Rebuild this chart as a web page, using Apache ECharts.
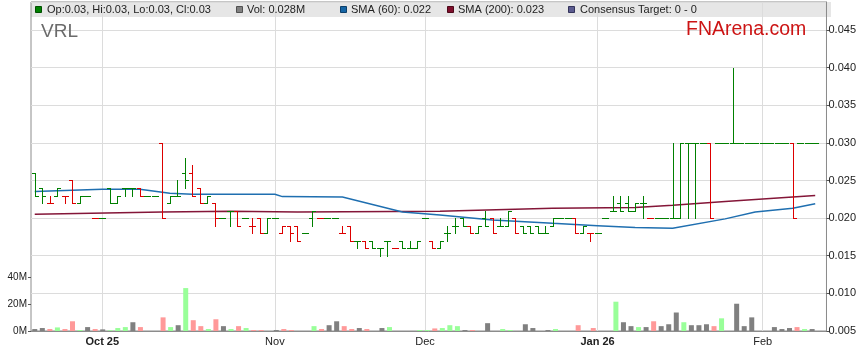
<!DOCTYPE html>
<html>
<head>
<meta charset="utf-8">
<script src="https://cdn.jsdelivr.net/npm/echarts@6/dist/echarts.min.js"></script>
<style>html,body{margin:0;padding:0;background:#fff}#c{width:859px;height:363px}</style>
</head>
<body>
<div id="c"></div>
<script>
// ---- categories: trading weekdays ----
const dates = [
 '2025-09-18','2025-09-19','2025-09-22','2025-09-23','2025-09-24','2025-09-25','2025-09-26','2025-09-29','2025-09-30',
 '2025-10-01','2025-10-02','2025-10-03','2025-10-06','2025-10-07','2025-10-08','2025-10-09','2025-10-10','2025-10-13','2025-10-14','2025-10-15','2025-10-16','2025-10-17','2025-10-20','2025-10-21','2025-10-22','2025-10-23','2025-10-24','2025-10-27','2025-10-28','2025-10-29','2025-10-30','2025-10-31',
 '2025-11-03','2025-11-04','2025-11-05','2025-11-06','2025-11-07','2025-11-10','2025-11-11','2025-11-12','2025-11-13','2025-11-14','2025-11-17','2025-11-18','2025-11-19','2025-11-20','2025-11-21','2025-11-24','2025-11-25','2025-11-26','2025-11-27','2025-11-28',
 '2025-12-01','2025-12-02','2025-12-03','2025-12-04','2025-12-05','2025-12-08','2025-12-09','2025-12-10','2025-12-11','2025-12-12','2025-12-15','2025-12-16','2025-12-17','2025-12-18','2025-12-19','2025-12-22','2025-12-23','2025-12-24','2025-12-25','2025-12-26','2025-12-29','2025-12-30','2025-12-31',
 '2026-01-01','2026-01-02','2026-01-05','2026-01-06','2026-01-07','2026-01-08','2026-01-09','2026-01-12','2026-01-13','2026-01-14','2026-01-15','2026-01-16','2026-01-19','2026-01-20','2026-01-21','2026-01-22','2026-01-23','2026-01-26','2026-01-27','2026-01-28','2026-01-29','2026-01-30',
 '2026-02-02','2026-02-03','2026-02-04','2026-02-05','2026-02-06','2026-02-09','2026-02-10','2026-02-11','2026-02-12'
];
const tickDates  = ['2025-10-01','2025-11-03','2025-12-01','2026-01-01','2026-02-02'];
const tickLabels = ['Oct 25','Nov','Dec','Jan 26','Feb'];

// ---- OHLC (AUD) ----
const opens = [
 .026,.024,.022,.023,.023,.025,.022,.023,.020,.020,
 .024,.022,.024,.024,.024,.023,.023,.030,.022,.023,
 .026,.026,.024,.022,.022,.020,.021,.021,.020,.019,
 .020,.018,.020,.018,.019,.019,.018,.020,.020,.020,
 .020,.018,.019,.017,.017,.017,.016,.017,.016,.017,
 .016,.016,.020,.017,.016,.018,.019,.020,.019,.018,
 .020,.020,.019,.019,.020,.019,.019,.019,.018,.019,
 .020,.020,.020,.018,.018,.018,.020,.021,.022,.022,
 .021,.022,.020,.020,.020,.020,.020,.030,.030,.030,
 .030,.030,.030,.030,.030,.030,.030,.030,.030,.030,
 .030,.030,.030,.030,.030
];
const highs = [
 .026,.024,.023,.024,.023,.025,.023,.023,.020,.020,
 .024,.023,.024,.024,.024,.023,.023,.030,.023,.025,
 .028,.027,.024,.023,.022,.020,.021,.021,.020,.020,
 .020,.020,.020,.019,.019,.019,.018,.021,.020,.020,
 .020,.019,.019,.017,.017,.017,.016,.017,.016,.017,
 .017,.017,.020,.017,.017,.019,.020,.020,.019,.019,
 .021,.020,.020,.021,.020,.019,.019,.019,.019,.020,
 .020,.020,.020,.019,.018,.018,.020,.023,.023,.023,
 .022,.023,.020,.020,.020,.030,.030,.030,.030,.030,
 .030,.030,.030,.040,.030,.030,.030,.030,.030,.030,
 .030,.030,.030,.030,.030
];
const lows = [
 .023,.022,.022,.023,.022,.022,.022,.023,.020,.020,
 .022,.022,.023,.023,.023,.023,.023,.020,.022,.023,
 .024,.023,.022,.022,.019,.020,.019,.019,.020,.018,
 .018,.018,.020,.018,.017,.017,.018,.019,.020,.020,
 .020,.018,.017,.016,.016,.016,.015,.015,.016,.016,
 .016,.016,.020,.016,.016,.017,.018,.019,.018,.018,
 .019,.018,.019,.019,.018,.018,.018,.018,.018,.019,
 .020,.020,.018,.018,.017,.018,.020,.021,.021,.021,
 .021,.020,.020,.020,.020,.020,.020,.020,.020,.030,
 .020,.030,.030,.030,.030,.030,.030,.030,.030,.030,
 .030,.020,.030,.030,.030
];
const closes = [
 .023,.023,.022,.024,.023,.022,.023,.023,.020,.020,
 .022,.023,.024,.024,.023,.023,.023,.020,.023,.023,
 .025,.023,.022,.023,.020,.020,.021,.019,.020,.019,
 .018,.020,.020,.019,.018,.017,.018,.021,.020,.020,
 .020,.018,.017,.017,.016,.016,.016,.017,.016,.016,
 .016,.017,.020,.016,.017,.018,.019,.019,.018,.019,
 .019,.018,.019,.021,.018,.018,.018,.018,.018,.020,
 .020,.020,.018,.019,.018,.018,.020,.021,.021,.021,
 .022,.022,.020,.020,.020,.020,.030,.030,.030,.030,
 .020,.030,.030,.030,.030,.030,.030,.030,.030,.030,
 .030,.020,.030,.030,.030
];
const closeBeforeStart = 0.023;

// ---- volume (millions of shares) ----
const volumes = [
 1.45,2.2,1.45,2.65,1.45,7.2,0.7,2.9,1.45,1.2,
 0.5,2.2,2.9,6.5,2.9,0,0,10.1,2.9,4.3,
 31.8,8.0,3.6,1.45,8.7,3.6,1.45,3.6,2.2,0.7,
 0.7,0,0.7,1.45,0.7,0,0,3.6,1.45,4.3,
 7.2,3.6,1.45,2.2,1.45,0,2.2,2.9,0,0,
 0,0.7,0.7,1.9,2.2,4.3,3.6,0.7,0.7,0,
 5.8,0,1.45,0.7,0,5.0,2.2,0,0.7,1.45,
 0,0,4.3,0,2.2,0,0,21.7,6.5,3.6,
 2.9,2.9,7.2,3.6,5.0,13.7,6.5,4.3,4.3,5.0,
 3.6,9.4,0,20.2,3.6,10.1,0,0,2.9,1.45,
 2.2,2.9,1.45,1.45,0.028
];

// ---- moving averages: [category index, value] ----
const sma60Days   = [0, 9, 14, 18, 21, 32, 33, 41, 49, 54, 61, 69, 75, 80, 85, 92, 96, 101, 104];
const sma60Vals   = [.02353,.02384,.02384,.0233,.02318,.02318,.02286,.0228,.0208,.02043,.01976,.01932,.0190,.01874,.01866,.0199,.0208,.0213,.0219];
const sma200Days  = [0, 17, 26, 35, 54, 69, 80, 85, 92, 101, 104];
const sma200Vals  = [.0205,.0208,.0209,.0208,.0209,.0213,.0214,.0217,.0222,.0228,.0230];

const FONT = '"Liberation Sans", Arial, sans-serif';
const UP = '#008000', DOWN = '#dd0000';
const VUP = '#99ff99', VDOWN = '#ff9999', VFLAT = '#808080';

const dirs = closes.map((c, i) => {
  const p = i === 0 ? closeBeforeStart : closes[i - 1];
  return Math.sign(Math.round((c - p) * 1e5));
});
const ohlcData = closes.map((c, i) => [i, opens[i], highs[i], lows[i], c, dirs[i]]);
const volData = volumes.map((v, i) => ({
  value: v,
  itemStyle: { color: dirs[i] > 0 ? VUP : dirs[i] < 0 ? VDOWN : VFLAT }
}));
const sma60 = sma60Days.map((d, k) => [d, sma60Vals[k]]);
const sma200 = sma200Days.map((d, k) => [d, sma200Vals[k]]);

function renderOHLC(params, api) {
  const i = api.value(0);
  const po = api.coord([i, api.value(1)]);
  const ph = api.coord([i, api.value(2)]);
  const pl = api.coord([i, api.value(3)]);
  const pc = api.coord([i, api.value(4)]);
  const color = api.value(5) >= 0 ? UP : DOWN;
  const x = Math.round(po[0]) + 0.5;
  const s = y => Math.round(y) + 0.5;
  const st = { stroke: color, lineWidth: 1 };
  return {
    type: 'group',
    children: [
      { type: 'line', shape: { x1: x, y1: s(ph[1]) - 0.5, x2: x, y2: s(pl[1]) + 0.5 }, style: st },
      { type: 'line', shape: { x1: x - 3.5, y1: s(po[1]), x2: x, y2: s(po[1]) }, style: st },
      { type: 'line', shape: { x1: x, y1: s(pc[1]), x2: x + 3.5, y2: s(pc[1]) }, style: st }
    ]
  };
}

const last = closes.length - 1;
const legendItems = [
  { x: 35, tx: 47, color: '#008000', stroke: '#005000',
    text: 'Op:' + opens[last] + ', Hi:' + highs[last] + ', Lo:' + lows[last] + ', Cl:' + closes[last] },
  { x: 236, tx: 247, color: '#808080', stroke: '#505050', text: 'Vol: ' + volumes[last] + 'M' },
  { x: 340, tx: 351, color: '#1565a5', stroke: '#0c3f6a', text: 'SMA (60): ' + sma60Vals[sma60Vals.length - 1].toFixed(3) },
  { x: 447, tx: 458, color: '#7e0f2c', stroke: '#4d0818', text: 'SMA (200): ' + sma200Vals[sma200Vals.length - 1].toFixed(3) },
  { x: 568, tx: 580, color: '#5b5b8f', stroke: '#33335a', text: 'Consensus Target: 0 - 0' }
];
const graphics = [
  { type: 'rect', z: -1, shape: { x: 31, y: 2, width: 800, height: 15 }, style: { fill: '#e6e6e6' } }
];
legendItems.forEach(it => {
  graphics.push({ type: 'rect', z: 10, shape: { x: it.x + 0.5, y: 6.5, width: 6, height: 6 },
    style: { fill: it.color, stroke: it.stroke, lineWidth: 1 } });
  graphics.push({ type: 'text', z: 10, x: it.tx, y: 10, style: { text: it.text, fill: '#222',
    font: '11px ' + FONT, textVerticalAlign: 'middle' } });
});
graphics.push({ type: 'text', z: 10, x: 41, y: 32, style: { text: 'VRL', fill: '#6b6b6b',
  font: '19px ' + FONT, textVerticalAlign: 'middle' } });
graphics.push({ type: 'text', z: 10, x: 686, y: 30, style: { text: 'FNArena.com', fill: '#cc1414',
  font: '19.5px ' + FONT, textVerticalAlign: 'middle' } });

const chart = echarts.init(document.getElementById('c'), null, { renderer: 'canvas' });
chart.setOption({
  animation: false,
  backgroundColor: '#fff',
  textStyle: { fontFamily: FONT },
  grid: [
    { left: 31, right: 28, top: 2, bottom: 32, show: true, borderColor: '#8c8c8c', borderWidth: 1, containLabel: false },
    { left: 31, right: 28, top: 277, bottom: 32, containLabel: false }
  ],
  xAxis: [
    { type: 'category', gridIndex: 0, data: dates, boundaryGap: true,
      axisLine: { show: true, lineStyle: { color: '#8c8c8c' } },
      axisTick: { show: false }, splitLine: { show: false },
      axisLabel: {
        interval: (idx, val) => tickDates.indexOf(val) >= 0,
        hideOverlap: false,
        margin: 5, fontSize: 11, color: '#222', fontFamily: FONT,
        formatter: val => {
          const k = tickDates.indexOf(val);
          if (k < 0) return '';
          const t = tickLabels[k];
          return /\d/.test(t) ? '{b|' + t + '}' : t;
        },
        rich: { b: { fontWeight: 'bold', fontSize: 11, color: '#222', fontFamily: FONT } }
      }
    },
    { type: 'category', gridIndex: 1, data: dates, boundaryGap: true, show: false }
  ],
  yAxis: [
    { type: 'value', gridIndex: 0, position: 'right', min: 0.005, max: 0.04872, interval: 0.005,
      axisLine: { show: true, lineStyle: { color: '#8c8c8c' } },
      axisTick: { show: true, length: 3, lineStyle: { color: '#555' } },
      splitLine: { show: true, lineStyle: { color: '#dcdcdc', width: 1 } },
      axisLabel: { margin: 2, fontSize: 11, color: '#222', fontFamily: FONT, showMaxLabel: false,
        formatter: v => v.toFixed(3) }
    },
    { type: 'value', gridIndex: 1, position: 'left', min: 0, max: 40, interval: 20,
      axisLine: { show: false },
      axisTick: { show: true, length: 3, lineStyle: { color: '#555' } },
      splitLine: { show: false },
      axisLabel: { margin: 4, fontSize: 10, color: '#222', fontFamily: FONT, formatter: v => v + 'M' }
    }
  ],
  graphic: graphics,
  series: [
    { name: 'Volume', type: 'bar', xAxisIndex: 1, yAxisIndex: 1, data: volData, barWidth: 5, z: 2 },
    { name: 'SMA (200)', type: 'line', xAxisIndex: 0, yAxisIndex: 0, data: sma200, showSymbol: false,
      symbol: 'none', lineStyle: { color: '#841638', width: 1.5 }, z: 3 },
    { name: 'SMA (60)', type: 'line', xAxisIndex: 0, yAxisIndex: 0, data: sma60, showSymbol: false,
      symbol: 'none', lineStyle: { color: '#1f6fb0', width: 1.5 }, z: 3 },
    { name: 'Price', type: 'custom', xAxisIndex: 0, yAxisIndex: 0, data: ohlcData,
      renderItem: renderOHLC, z: 4,
      encode: { x: 0, y: [1, 2, 3, 4] },
      markLine: {
        silent: true, symbol: ['none', 'none'], z: 1, animation: false,
        label: { show: false },
        lineStyle: { color: '#dcdcdc', type: 'solid', width: 1 },
        data: tickDates.map(d => ({ xAxis: d }))
      }
    }
  ]
});
</script>
</body>
</html>
